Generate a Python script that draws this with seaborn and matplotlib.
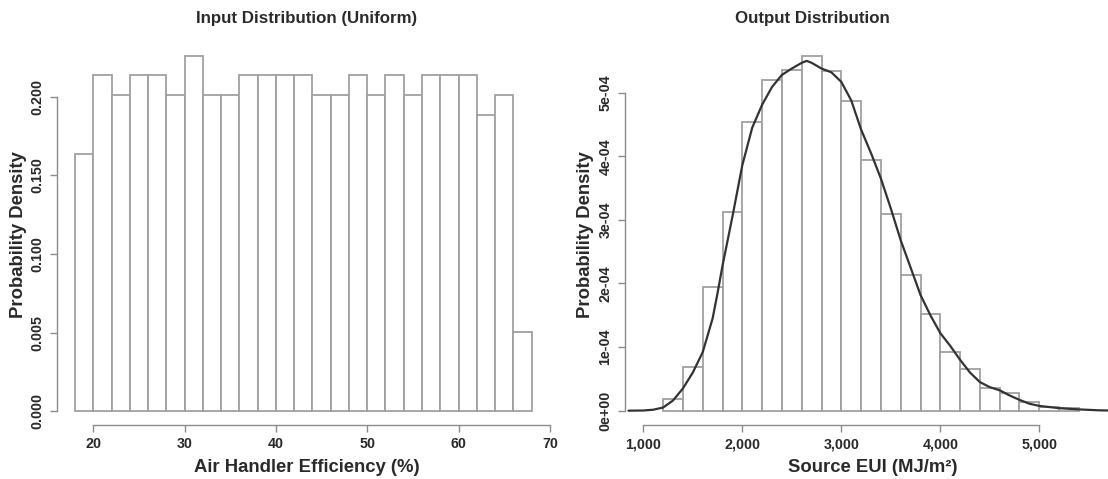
import numpy as np
import pandas as pd
import matplotlib
matplotlib.use("Agg")
import matplotlib.pyplot as plt
import seaborn as sns

# ---------------- data ----------------
# Left: input distribution histogram (bins of width 2 from 18 to 68)
input_bin_start = 18
input_bin_width = 2
input_density = [0.1635, 0.2138, 0.2013, 0.2138, 0.2138, 0.2013, 0.2264, 0.2013,
                 0.2013, 0.2138, 0.2138, 0.2138, 0.2138, 0.2013, 0.2013, 0.2138,
                 0.2013, 0.2138, 0.2013, 0.2138, 0.2138, 0.2138, 0.1887, 0.2013,
                 0.0503]
input_yticks = [0.0, 0.05, 0.10, 0.15, 0.20]
input_yticklabels = ["0.000", "0.005", "0.100", "0.150", "0.200"]
input_xticks = [20, 30, 40, 50, 60, 70]

# Right: output distribution histogram (bins of width 200 from 1200)
output_bin_start = 1200
output_bin_width = 200
output_density_e4 = [0.18, 0.68, 1.95, 3.12, 4.54, 5.20, 5.35, 5.58, 5.34, 4.87,
                     3.94, 3.10, 2.13, 1.52, 0.93, 0.65, 0.35, 0.28, 0.14, 0.06,
                     0.035]
# density curve
curve_x = [850, 1000, 1100, 1200, 1300, 1400, 1500, 1600, 1700, 1750, 1800, 1900,
           2000, 2100, 2200, 2300, 2400, 2500, 2600, 2650, 2700, 2800, 2900, 3000,
           3100, 3200, 3300, 3400, 3500, 3600, 3700, 3800, 3900, 4000, 4100, 4200,
           4300, 4400, 4500, 4600, 4700, 4800, 4900, 5000, 5200, 5400, 5600, 5700]
curve_y_e4 = [0.0, 0.003, 0.015, 0.05, 0.16, 0.35, 0.60, 0.92, 1.45, 1.85, 2.28,
              3.05, 3.86, 4.45, 4.81, 5.09, 5.28, 5.38, 5.47, 5.50, 5.47, 5.38,
              5.32, 5.17, 4.88, 4.42, 4.05, 3.65, 3.18, 2.68, 2.25, 1.82, 1.50,
              1.22, 1.02, 0.80, 0.60, 0.45, 0.37, 0.32, 0.24, 0.17, 0.11, 0.075,
              0.04, 0.02, 0.006, 0.003]
output_yticks_e4 = [0, 1, 2, 3, 4, 5]
output_yticklabels = ["0e+00", "1e-04", "2e-04", "3e-04", "4e-04", "5e-04"]
output_xticks = [1000, 2000, 3000, 4000, 5000]
output_xticklabels = ["1,000", "2,000", "3,000", "4,000", "5,000"]

# ---------------- style ----------------
sns.set_style("white")
plt.rcParams["font.family"] = ["Liberation Sans", "DejaVu Sans"]
plt.rcParams["font.weight"] = "bold"

TEXT = "#2a2a2a"
AXIS = "#8c8c8c"
BAR_EDGE = "#a0a0a0"

fig = plt.figure(figsize=(11.08, 4.79), dpi=100)
W, H = 1108, 479

def axes_px(x0, x1, ytop, ybot):
    return fig.add_axes([x0 / W, 1 - ybot / H, (x1 - x0) / W, (ybot - ytop) / H])

ax1 = axes_px(56.8, 555.3, 45, 425)
ax2 = axes_px(625, 1108, 45, 425)

# left histogram
n_in = len(input_density)
in_centers = input_bin_start + input_bin_width * (np.arange(n_in) + 0.5)
df_in = pd.DataFrame({"x": in_centers, "w": input_density})
sns.histplot(data=df_in, x="x", weights="w", binwidth=input_bin_width,
             binrange=(input_bin_start, input_bin_start + input_bin_width * n_in),
             stat="count", color="white", edgecolor=BAR_EDGE, linewidth=1.3,
             alpha=1, ax=ax1)

# right histogram
n_out = len(output_density_e4)
out_centers = output_bin_start + output_bin_width * (np.arange(n_out) + 0.5)
df_out = pd.DataFrame({"x": out_centers, "w": np.array(output_density_e4) * 1e-4})
sns.histplot(data=df_out, x="x", weights="w", binwidth=output_bin_width,
             binrange=(output_bin_start, output_bin_start + output_bin_width * n_out),
             stat="count", color="white", edgecolor=BAR_EDGE, linewidth=1.3,
             alpha=1, ax=ax2)
df_curve = pd.DataFrame({"x": curve_x, "y": np.array(curve_y_e4) * 1e-4})
sns.lineplot(data=df_curve, x="x", y="y", color="#333333", linewidth=1.6, ax=ax2)

# ---- axes formatting ----
ax1.set_xlim(16.0, 70.6)
ax1.set_ylim(-0.0089, 0.2331)
ax2.set_xlim(815, 5694)
ax2.set_ylim(-0.225e-4, 5.75e-4)

for ax in (ax1, ax2):
    for s in ("top", "right"):
        ax.spines[s].set_visible(False)
    for s in ("left", "bottom"):
        ax.spines[s].set_color(AXIS)
        ax.spines[s].set_linewidth(1.0)
    ax.tick_params(axis="both", bottom=True, left=True, direction="out",
                   length=5, width=1.0, color=AXIS, labelcolor=TEXT,
                   labelsize=10.3)
    ax.tick_params(axis="x", pad=4)
    ax.tick_params(axis="y", pad=4)
    ax.set_facecolor("white")

ax1.spines["left"].set_bounds(0, 0.2)
ax1.spines["bottom"].set_bounds(20, 70)
ax1.set_xticks(input_xticks)
ax1.set_xticklabels([str(v) for v in input_xticks], fontweight="bold")
ax1.set_yticks(input_yticks)
ax1.set_yticklabels(input_yticklabels, fontweight="bold", rotation=90,
                    va="center", ha="right")

ax2.spines["left"].set_bounds(0, 5e-4)
ax2.spines["bottom"].set_bounds(1000, 5000)
ax2.set_xticks(output_xticks)
ax2.set_xticklabels(output_xticklabels, fontweight="bold")
ax2.set_yticks(np.array(output_yticks_e4) * 1e-4)
ax2.set_yticklabels(output_yticklabels, fontweight="bold", rotation=90,
                    va="center", ha="right")

ax1.set_xlabel("Air Handler Efficiency (%)", fontsize=13.3, fontweight="bold",
               color=TEXT, va="center")
ax1.xaxis.set_label_coords((307 - 56.8) / 498.5, (425 - 467) / 380)
ax1.set_ylabel("Probability Density", fontsize=13.3, fontweight="bold",
               color=TEXT, va="center")
ax1.yaxis.set_label_coords((18 - 56.8) / 498.5, 0.5)

ax2.set_xlabel("Source EUI (MJ/m²)", fontsize=13.3, fontweight="bold",
               color=TEXT, va="center")
ax2.xaxis.set_label_coords((873 - 625) / 483, (425 - 467) / 380)
ax2.set_ylabel("Probability Density", fontsize=13.3, fontweight="bold",
               color=TEXT, va="center")
ax2.yaxis.set_label_coords((585 - 625) / 483, 0.5)

fig.text(307 / W, 1 - 18 / H, "Input Distribution (Uniform)", ha="center",
         va="center", fontsize=12.2, fontweight="bold", color=TEXT)
fig.text(812 / W, 1 - 18 / H, "Output Distribution", ha="center",
         va="center", fontsize=12.2, fontweight="bold", color=TEXT)

fig.savefig("out.png", dpi=100, facecolor="white")
